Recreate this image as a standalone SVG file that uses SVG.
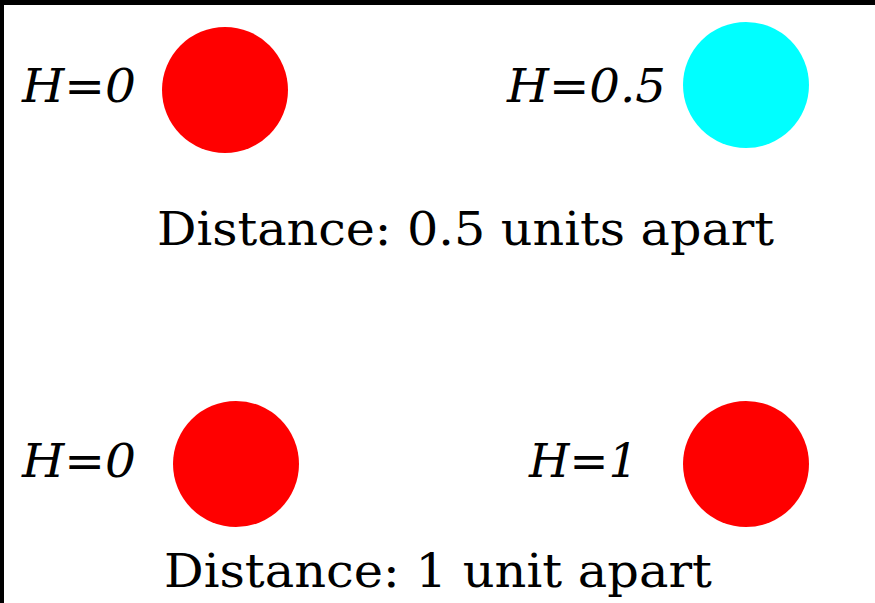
<svg xmlns="http://www.w3.org/2000/svg" width="875" height="603" viewBox="0 0 875 603">
<style>
.lbl{font-family:"DejaVu Serif",serif;font-style:italic;font-size:46px;fill:#000}
.dist{font-family:"DejaVu Serif",serif;font-size:46px;fill:#000}
</style>
<rect x="0" y="0" width="875" height="603" fill="#fff"/>
<rect x="0" y="0" width="875" height="5" fill="#000"/>
<rect x="0" y="0" width="4" height="603" fill="#000"/>
<g id="n1"><text class="lbl" x="22" y="102" textLength="114" lengthAdjust="spacingAndGlyphs">H=0</text><circle cx="225" cy="90" r="63" fill="#f00"/></g>
<g id="n2"><text class="lbl" x="507" y="102" textLength="159" lengthAdjust="spacingAndGlyphs">H=0.5</text><circle cx="746" cy="85" r="63" fill="#0ff"/></g>
<g id="t1"><text class="dist" x="157" y="245" textLength="617" lengthAdjust="spacingAndGlyphs">Distance: 0.5 units apart</text></g>
<g id="n3"><text class="lbl" x="22" y="477" textLength="114" lengthAdjust="spacingAndGlyphs">H=0</text><circle cx="236" cy="464" r="63" fill="#f00"/></g>
<g id="n4"><text class="lbl" x="529" y="477" textLength="109" lengthAdjust="spacingAndGlyphs">H=1</text><circle cx="746" cy="464" r="63" fill="#f00"/></g>
<g id="t2"><text class="dist" x="164" y="587" textLength="548" lengthAdjust="spacingAndGlyphs">Distance: 1 unit apart</text></g>
<g id="connectors"/>
</svg>
